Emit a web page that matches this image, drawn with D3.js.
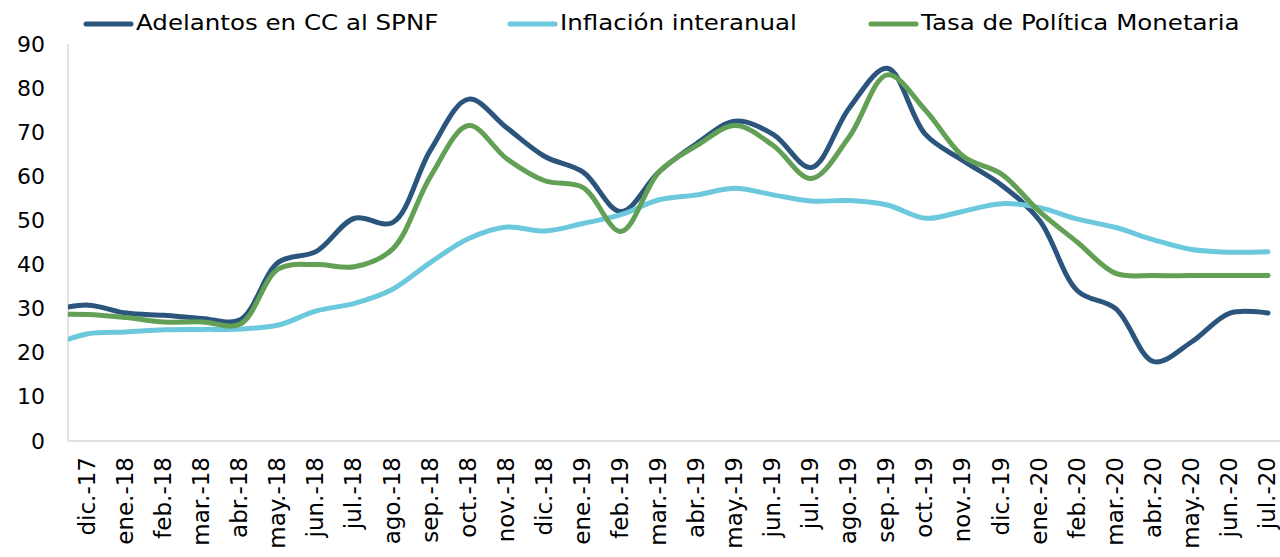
<!DOCTYPE html>
<html>
<head>
<meta charset="utf-8">
<script src="https://cdn.jsdelivr.net/npm/d3@7"></script>
<style>
  body { margin: 0; background: #fff; }
  svg { display: block; }
  text { font-family: "DejaVu Sans", Verdana, sans-serif; fill: #000; }
</style>
</head>
<body>
<svg id="chart" width="1280" height="557"></svg>
<script>
// meses (nov.-17 queda fuera del area del grafico, solo da la entrada de la curva)
let meses = ["nov.-17","dic.-17","ene.-18","feb.-18","mar.-18","abr.-18","may.-18","jun.-18","jul.-18",
             "ago.-18","sep.-18","oct.-18","nov.-18","dic.-18","ene.-19","feb.-19","mar.-19","abr.-19",
             "may.-19","jun.-19","jul.-19","ago.-19","sep.-19","oct.-19","nov.-19","dic.-19","ene.-20",
             "feb.-20","mar.-20","abr.-20","may.-20","jun.-20","jul.-20"];

let adelantos = [29.5,30.8,29,28.5,27.8,27.5,40.5,43,50.5,49.5,66,77.5,71,64.5,61,52,61,67.5,
                 72.5,69.5,62,75.5,84.5,69.5,63.5,58,50,34,30,18,22.5,29,29];

let inflacion = [21.5,24.3,24.7,25.2,25.3,25.4,26.3,29.5,31.2,34.4,40.5,45.9,48.5,47.6,49.3,51.3,54.7,55.8,
                 57.3,55.8,54.4,54.5,53.5,50.5,52.1,53.8,52.9,50.3,48.4,45.6,43.4,42.8,42.9];

let tpm = [28.7,28.7,28,27,27,26.5,39,40,39.5,43.5,60,71.5,64,59,57.5,47.5,61,67,
           71.5,67,59.5,69,83,75,64.5,60.5,52,45,38,37.5,37.5,37.5,37.5];

let yTicks = [0,10,20,30,40,50,60,70,80,90];

let series = [
  {name: "Adelantos en CC al SPNF", values: adelantos, color: "#2b557d", lx: 86},
  {name: "Inflación interanual", values: inflacion, color: "#6cc8dc", lx: 510},
  {name: "Tasa de Política Monetaria", values: tpm, color: "#62a056", lx: 871}
];

let svg = d3.select("#chart"),
    plotLeft = 68, plotRight = 1280, plotTop = 44, plotBottom = 441;

let x = d3.scalePoint().domain(meses).range([50, 1268]);
let y = d3.scaleLinear().domain([0, 90]).range([plotBottom, plotTop]);

svg.append("defs").append("clipPath").attr("id", "plot")
   .append("rect").attr("x", plotLeft).attr("y", 0)
   .attr("width", plotRight - plotLeft).attr("height", plotBottom + 5);

// ejes
svg.append("line").attr("x1", plotLeft).attr("x2", plotLeft)
   .attr("y1", plotTop).attr("y2", plotBottom)
   .attr("stroke", "#d9d9d9").attr("stroke-width", 1.5);
svg.append("line").attr("x1", plotLeft).attr("x2", plotRight)
   .attr("y1", plotBottom).attr("y2", plotBottom)
   .attr("stroke", "#d9d9d9").attr("stroke-width", 1.5);

let yAxis = svg.append("g")
   .attr("transform", "translate(" + plotLeft + ",0)")
   .call(d3.axisLeft(y).tickValues(yTicks).tickSize(0).tickPadding(23));
yAxis.select(".domain").remove();
yAxis.selectAll("text").style("font-size", "22px")
     .style("font-family", "DejaVu Sans, Verdana, sans-serif");

let xAxis = svg.append("g")
   .attr("transform", "translate(0," + plotBottom + ")")
   .call(d3.axisBottom(x).tickValues(meses.filter((m) => x(m) >= plotLeft)).tickSize(0));
xAxis.select(".domain").remove();
xAxis.selectAll("text")
     .style("font-size", "23px")
     .style("font-family", "DejaVu Sans, Verdana, sans-serif")
     .attr("text-anchor", "end")
     .attr("transform", "rotate(-90)")
     .attr("x", -16)
     .attr("y", 0)
     .attr("dy", "0.28em");

// lineas suavizadas
let line = d3.line()
   .x((d, i) => x(meses[i]))
   .y((d) => y(d))
   .curve(d3.curveCatmullRom.alpha(0.5));

let g = svg.append("g").attr("clip-path", "url(#plot)");
series.forEach(function(s) {
  g.append("path")
   .attr("d", line(s.values))
   .attr("fill", "none")
   .attr("stroke", s.color)
   .attr("stroke-width", 5)
   .attr("stroke-linecap", "round")
   .attr("stroke-linejoin", "round");
});

// leyenda
let legend = svg.append("g");
series.forEach(function(s) {
  legend.append("line")
     .attr("x1", s.lx).attr("x2", s.lx + 45)
     .attr("y1", 24).attr("y2", 24)
     .attr("stroke", s.color).attr("stroke-width", 5)
     .attr("stroke-linecap", "round");
  legend.append("text")
     .attr("transform", "translate(" + (s.lx + 50) + ",30) scale(1.115,1)")
     .style("font-size", "22px")
     .text(s.name);
});
</script>
</body>
</html>
